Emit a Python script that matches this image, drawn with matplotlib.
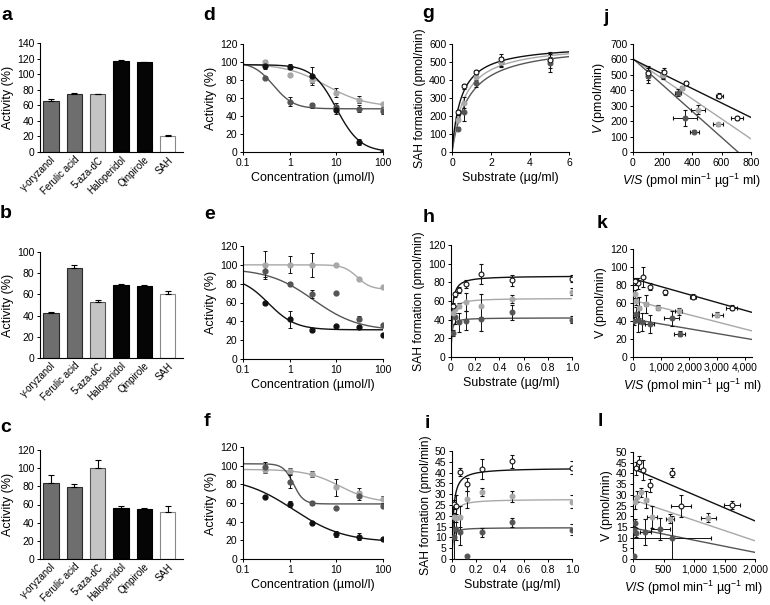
import numpy as np
import matplotlib
matplotlib.use('Agg')
import matplotlib.pyplot as plt

plt.rcParams['font.family'] = ['Liberation Sans', 'DejaVu Sans']
plt.rcParams['mathtext.fontset'] = 'custom'
plt.rcParams['mathtext.rm'] = 'Liberation Sans'
plt.rcParams['mathtext.it'] = 'Liberation Sans:italic'
plt.rcParams['axes.unicode_minus'] = True

# ---- bar panels a, b, c ----
compounds = ['γ-oryzanol', 'Ferulic acid', '5-aza-dC', 'Haloperidol', 'Qinpirole', 'SAH']
act_a = [66, 75, 74, 117, 115, 21]
err_a = [2, 1, 1, 1, 1, 0.5]
act_b = [42, 85, 53, 69, 68, 60]
err_b = [1, 2.5, 1.5, 0.5, 0.5, 3.5]
act_c = [84, 79, 100, 56, 55, 52]
err_c = [8, 4, 9, 2.5, 1.5, 6]

# ---- dose response d, e, f ----
conc = [0.3, 1, 3, 10, 30, 100]
d_black = [96, 95, 85, 47, 11, 0]
d_black_err = [4, 3, 10, 5, 3, 0.5]
d_dark = [82, 56, 52, 50, 48, 46]
d_dark_err = [1, 5, 3, 4, 4, 4]
d_light = [100, 86, 80, 66, 58, 53]
d_light_err = [2, 2, 3, 5, 4, 1]

e_black = [59, 42, 31, 35, 34, 26]
e_black_err = [2, 9, 2, 1, 1, 1]
e_dark = [93, 80, 69, 70, 43, 36]
e_dark_err = [6, 2, 4, 1, 3, 1]
e_light = [100, 100, 100, 100, 85, 76]
e_light_err = [15, 9, 13, 1, 1, 1]

f_black = [66, 59, 39, 27, 24, 21]
f_black_err = [1, 3, 1, 3, 4, 1]
f_dark = [99, 83, 60, 55, 67, 57]
f_dark_err = [5, 7, 2, 1, 4, 2]
f_light = [95, 94, 91, 77, 71, 64]
f_light_err = [3, 3, 3, 9, 5, 4]

# fitted logistic params: top, bottom, IC50, hill
d_fits = {'black': (97, 0, 10, 1.7), 'dark': (100, 48, 0.45, 2.0), 'light': (98, 50, 6, 1.0)}
e_fits = {'black': (87.5, 31, 0.35, 1.5), 'dark': (96, 30, 3.2, 0.9), 'light': (100, 74, 28, 3.0)}
f_fits = {'black': (88, 18, 1.2, 0.8), 'dark': (102, 59, 1.2, 4.0), 'light': (96, 60, 12, 1.2)}

# ---- kinetics g/j ----
sub_g = [0.3125, 0.625, 1.25, 2.5, 5]
g_open = [220, 365, 445, 517, 510]
g_open_err = [12, 15, 10, 25, 20]
g_light = [180, 275, 415, 500, 510]
g_light_err = [10, 30, 15, 20, 45]
g_dark = [130, 220, 385, 500, 495]
g_dark_err = [10, 50, 25, 30, 50]
g_fits = {'open': (600, 0.47), 'light': (605, 0.65), 'dark': (605, 0.85)}  # Vmax, Km

# ---- kinetics h/k and i/l ----
sub_hi = [0.015625, 0.03125, 0.0625, 0.125, 0.25, 0.5, 1.0]
h_open = [55, 67, 72, 78, 89, 82, 84]
h_open_err = [3, 3, 3, 4, 11, 6, 4]
h_light = [47, 51, 55, 59, 55, 62, 70]
h_light_err = [3, 4, 3, 10, 12, 4, 4]
h_dark = [26, 43, 37, 39, 41, 48, 40]
h_dark_err = [3, 8, 10, 10, 13, 8, 4]
h_fits = {'open': (87, 0.0088), 'light': (63, 0.008), 'dark': (42, 0.0053)}

i_open = [25.3, 24.7, 40.3, 34.5, 41.6, 45.2, 42.3]
i_open_err = [2, 5, 2, 3, 4.5, 3, 3]
i_light = [19.3, 18.9, 19.6, 27.6, 31.1, 29.1, 26.5]
i_light_err = [2, 2, 5, 4, 2, 2.5, 3]
i_dark = [10, 14, 12.7, 1.5, 12.3, 16.9, 13.5]
i_dark_err = [10, 5, 6, 0.5, 2, 2, 2.5]
i_fits = {'open': (42.2, 0.0122), 'light': (27.7, 0.0096), 'dark': (14.5, 0.0057)}

BLACK = '#111111'
DARK = '#555555'
LIGHT = '#a8a8a8'
bar_fill = ['#6e6e6e', '#6e6e6e', '#c4c4c4', '#050505', '#050505', '#ffffff']
bar_edge = ['#2a2a2a', '#2a2a2a', '#555555', '#000000', '#000000', '#888888']

W, H = 770, 605
fig = plt.figure(figsize=(W / 100, H / 100), dpi=100)


def add_ax(l, r, t, b):
    ax = fig.add_axes([l / W, 1 - b / H, (r - l) / W, (b - t) / H])
    for s in ['top', 'right']:
        ax.spines[s].set_visible(False)
    for s in ['left', 'bottom']:
        ax.spines[s].set_linewidth(0.8)
    ax.tick_params(direction='out', length=2.5, width=0.7, labelsize=7.5, pad=1.5)
    return ax


def bar_panel(ax, vals, errs, ymax):
    x = np.arange(len(compounds))
    ax.bar(x, vals, width=0.65, color=bar_fill, edgecolor=bar_edge, linewidth=0.8)
    ax.errorbar(x, vals, yerr=[np.zeros(len(errs)), errs], fmt='none', ecolor='black',
                elinewidth=0.8, capsize=2, capthick=0.8)
    ax.set_xlim(-0.47, 5.66)
    ax.set_ylim(0, ymax)
    ax.set_yticks(np.arange(0, ymax + 1, 20))
    ax.set_xticks(x)
    ax.set_xticklabels(compounds, rotation=45, ha='right', rotation_mode='anchor', fontsize=7)
    ax.tick_params(axis='x', length=0, pad=2)
    ax.set_ylabel('Activity (%)', fontsize=9, labelpad=2)


def logistic(x, top, bottom, ic50, hill):
    return bottom + (top - bottom) / (1 + (x / ic50) ** hill)


def dose_panel(ax, series, fits):
    xs = np.logspace(-1, 2, 300)
    for key, col in [('light', LIGHT), ('dark', DARK), ('black', BLACK)]:
        ax.plot(xs, logistic(xs, *fits[key]), color=col, lw=1.0, zorder=2)
    for key, col in [('light', LIGHT), ('dark', DARK), ('black', BLACK)]:
        vals, errs = series[key]
        ax.errorbar(conc, vals, yerr=errs, fmt='o', ms=3.5, color=col, ecolor=BLACK,
                    elinewidth=0.7, capsize=1.5, capthick=0.7, zorder=3)
    ax.set_xscale('log')
    ax.set_xlim(0.1, 100)
    ax.set_ylim(0, 120)
    ax.set_yticks(np.arange(0, 121, 20))
    ax.set_xticks([0.1, 1, 10, 100])
    ax.set_xticklabels(['0.1', '1', '10', '100'])
    ax.minorticks_off()
    ax.set_ylabel('Activity (%)', fontsize=9, labelpad=2)
    ax.set_xlabel('Concentration (µmol/l)', fontsize=9, labelpad=3)


def mm_panel(ax, sub, series, fits, xmax, ymax, ystep, xticks, xlabels):
    xs = np.linspace(0, xmax, 400)
    for key, col in [('dark', DARK), ('light', LIGHT), ('open', BLACK)]:
        vmax, km = fits[key]
        ax.plot(xs, vmax * xs / (km + xs), color=col, lw=1.0, zorder=2)
    for key, col in [('dark', DARK), ('light', LIGHT), ('open', BLACK)]:
        vals, errs = series[key]
        face = 'white' if key == 'open' else col
        ax.errorbar(sub, vals, yerr=errs, fmt='o', ms=3.5, mfc=face, mec=col, mew=0.8,
                    ecolor=BLACK, elinewidth=0.7, capsize=1.5, capthick=0.7, zorder=3)
    ax.set_xlim(0, xmax)
    ax.set_ylim(0, ymax)
    ax.set_yticks(np.arange(0, ymax + 0.1, ystep))
    ax.set_xticks(xticks)
    ax.set_xticklabels(xlabels)
    ax.set_ylabel('SAH formation (pmol/min)', fontsize=8.7, labelpad=2)
    ax.set_xlabel('Substrate (µg/ml)', fontsize=9, labelpad=3)


def eh_panel(ax, sub, series, fits, xmax, ymax, ystep, xticks, xlabels, ylab):
    xs = np.array([0, xmax])
    for key, col in [('dark', DARK), ('light', LIGHT), ('open', BLACK)]:
        vmax, km = fits[key]
        ax.plot(xs, vmax - km * xs, color=col, lw=1.0, zorder=2)
    s = np.array(sub)
    for key, col in [('dark', DARK), ('light', LIGHT), ('open', BLACK)]:
        vals, errs = series[key]
        v = np.array(vals)
        e = np.array(errs)
        face = 'white' if key == 'open' else col
        ax.errorbar(v / s, v, yerr=e, xerr=e / s, fmt='o', ms=3.5, mfc=face, mec=col, mew=0.8,
                    ecolor=BLACK, elinewidth=0.7, capsize=1.5, capthick=0.7, zorder=3)
    ax.set_xlim(0, xmax)
    ax.set_ylim(0, ymax)
    ax.set_yticks(np.arange(0, ymax + 0.1, ystep))
    ax.set_xticks(xticks)
    ax.set_xticklabels(xlabels)
    ax.set_ylabel(ylab, fontsize=9, labelpad=2)
    ax.set_xlabel(r'$\mathit{V/S}$ (pmol min$^{-1}$ µg$^{-1}$ ml)', fontsize=9, labelpad=3)


# row 1
ax = add_ax(40, 183, 43, 152)
bar_panel(ax, act_a, err_a, 140)
ax = add_ax(243, 383, 44, 152)
dose_panel(ax, {'black': (d_black, d_black_err), 'dark': (d_dark, d_dark_err),
                'light': (d_light, d_light_err)}, d_fits)
ax = add_ax(452, 569, 44, 152)
g_series = {'open': (g_open, g_open_err), 'light': (g_light, g_light_err), 'dark': (g_dark, g_dark_err)}
mm_panel(ax, sub_g, g_series, g_fits, 6, 600, 100, [0, 2, 4, 6], ['0', '2', '4', '6'])
ax = add_ax(633, 751, 44, 152)
eh_panel(ax, sub_g, g_series, g_fits, 800, 700, 100, [0, 200, 400, 600, 800],
         ['0', '200', '400', '600', '800'], r'$\mathit{V}$ (pmol/min)')

# row 2
ax = add_ax(40, 183, 252, 358)
bar_panel(ax, act_b, err_b, 100)
ax = add_ax(243, 383, 246, 359)
dose_panel(ax, {'black': (e_black, e_black_err), 'dark': (e_dark, e_dark_err),
                'light': (e_light, e_light_err)}, e_fits)
ax = add_ax(451, 572, 245, 357)
h_series = {'open': (h_open, h_open_err), 'light': (h_light, h_light_err), 'dark': (h_dark, h_dark_err)}
frac_ticks = [0, 0.2, 0.4, 0.6, 0.8, 1.0]
frac_labels = ['0', '0.2', '0.4', '0.6', '0.8', '1.0']
mm_panel(ax, sub_hi, h_series, h_fits, 1.0, 120, 20, frac_ticks, frac_labels)
ax = add_ax(633, 752, 249, 357)
eh_panel(ax, sub_hi, h_series, h_fits, 4250, 120, 20, [0, 1000, 2000, 3000, 4000],
         ['0', '1,000', '2,000', '3,000', '4,000'], 'V (pmol/min)')

# row 3
ax = add_ax(40, 183, 450, 559)
bar_panel(ax, act_c, err_c, 120)
ax = add_ax(243, 383, 447, 559)
dose_panel(ax, {'black': (f_black, f_black_err), 'dark': (f_dark, f_dark_err),
                'light': (f_light, f_light_err)}, f_fits)
ax = add_ax(452, 572, 451, 559)
i_series = {'open': (i_open, i_open_err), 'light': (i_light, i_light_err), 'dark': (i_dark, i_dark_err)}
mm_panel(ax, sub_hi, i_series, i_fits, 1.0, 50, 5, frac_ticks, frac_labels)
ax = add_ax(633, 755, 452, 559)
eh_panel(ax, sub_hi, i_series, i_fits, 2000, 50, 5, [0, 500, 1000, 1500, 2000],
         ['0', '500', '1,000', '1,500', '2,000'], 'V (pmol/min)')

# panel letters
letters = [('a', 7, 16), ('d', 209, 16), ('g', 428, 14), ('j', 606, 17),
           ('b', 6, 213), ('e', 210, 215), ('h', 429, 217), ('k', 602, 223),
           ('c', 6, 428), ('f', 207, 421), ('i', 427, 424), ('l', 600, 421)]
for txt, px, py in letters:
    fig.text(px / W, 1 - py / H, txt, fontsize=14, fontweight='bold', ha='center', va='center')

fig.savefig('out.png', dpi=100)
